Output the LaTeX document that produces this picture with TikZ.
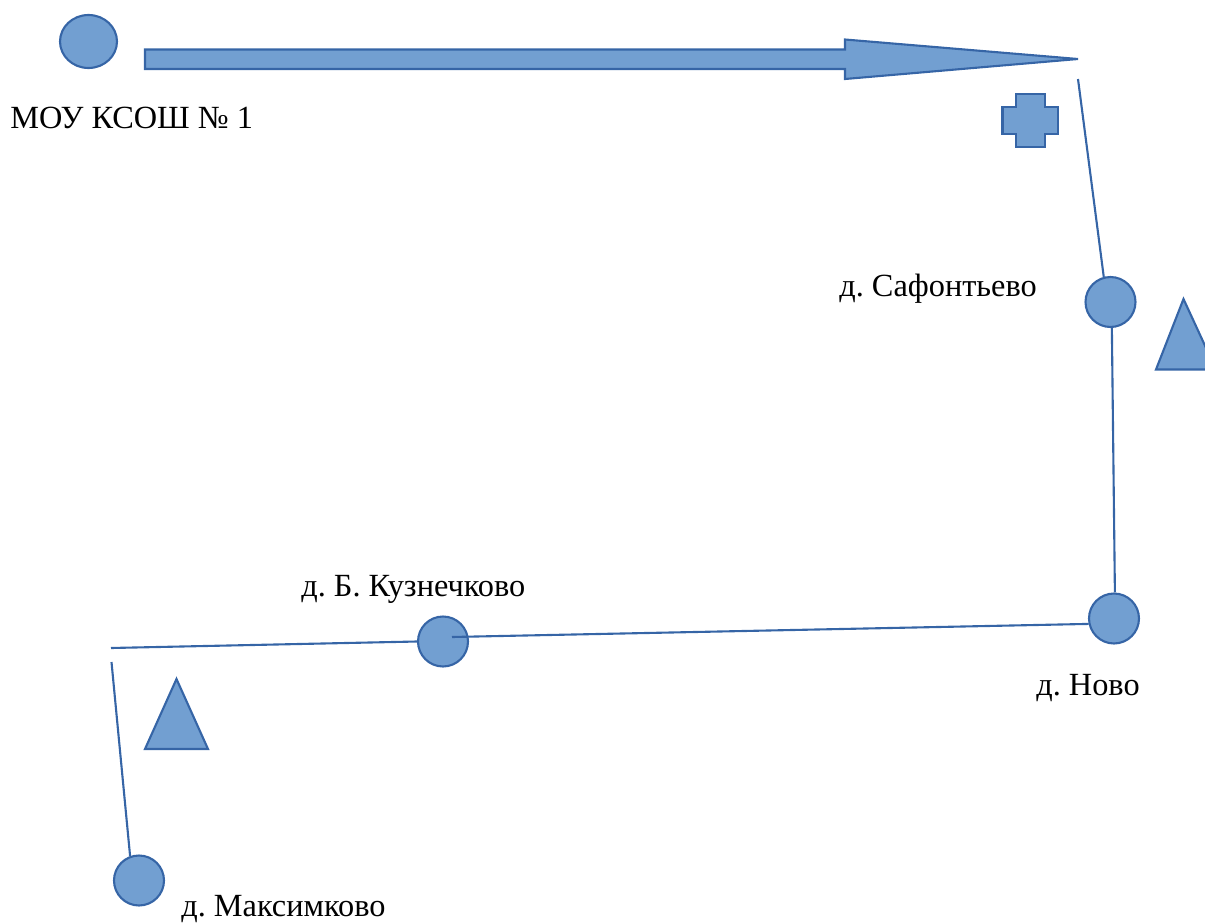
\documentclass[tikz,border=0pt]{standalone}
\usepackage{fontspec}
\setmainfont{Liberation Serif}
\usetikzlibrary{shapes.geometric}
\definecolor{shapefill}{RGB}{114,159,209}
\definecolor{shapeline}{RGB}{54,101,166}
\tikzset{
    stop/.style={circle, draw=shapeline, fill=shapefill, line width=1.2pt, inner sep=0pt, minimum size=1cm},
    solid shape/.style={fill=shapefill, draw=shapeline, line width=1.2pt, line join=miter},
    lbl/.style={font=\fontsize{18.4}{20}\selectfont, inner sep=0pt, text=black},
    road/.style={draw=shapeline, line width=1.2pt}
}

\begin{document}
\frenchspacing
\begin{tikzpicture}[x=0.02cm, y=-0.02cm]
        \useasboundingbox (0,0) rectangle (1205,923);

        \node[ellipse, draw=shapeline, fill=shapefill, line width=1.2pt, inner sep=0pt, minimum width=1.14cm, minimum height=1.06cm] (school) at (88.5,41.5) {};
        \node[stop] (safontevo) at (1110.5,302) {};
        \node[stop] (novo) at (1114,618.5) {};
        \node[stop] (kuznechkovo) at (443,641.5) {};
        \node[stop] (maksimkovo) at (139,880.5) {};

        \coordinate (tip) at (1078,59);
        \coordinate (turnA) at (1078,79);
        \coordinate (turnB) at (111,648);
        \coordinate (turnC) at (111.5,662);
        \coordinate (inside) at (452,637);

        % long arrow
        \draw[solid shape] (145,49.5)--(845,49.5)--(845,39.5)--(tip)--(845,79)--(845,69)--(145,69)--cycle;

        % cross
        \draw[solid shape] (1016,94)--(1045,94)--(1045,107)--(1058,107)--(1058,134)--(1045,134)--(1045,147)--(1016,147)--(1016,134)--(1002.5,134)--(1002.5,107)--(1016,107)--cycle;

        % triangles
        \draw[solid shape] (1183.5,299)--(1216,369.5)--(1156,369.5)--cycle;
        \draw[solid shape] (176.5,679)--(208,749)--(145,749)--cycle;

        % roads
        \draw[road] (turnA)--(safontevo.105);
        \draw[road] (safontevo.-87)--(novo.88);
        \draw[road] (novo.192)--(inside);
        \draw[road] (kuznechkovo.west)--(turnB);
        \draw[road] (turnC)--(maksimkovo.110);

        % labels
        \node[lbl, anchor=west] (schoollbl) at (10,118) {МОУ КСОШ № 1};
        \node[lbl, anchor=west] (safontevolbl) at (839,289) {д. Сафонтьево};
        \node[lbl, anchor=west] (novolbl) at (1036,688) {д. Ново};
        \node[lbl, anchor=west] (kuznechkovolbl) at (301,589) {д. Б. Кузнечково};
        \node[lbl, anchor=west] (maksimkovolbl) at (181,909) {д. Максимково};
\end{tikzpicture}
\end{document}
